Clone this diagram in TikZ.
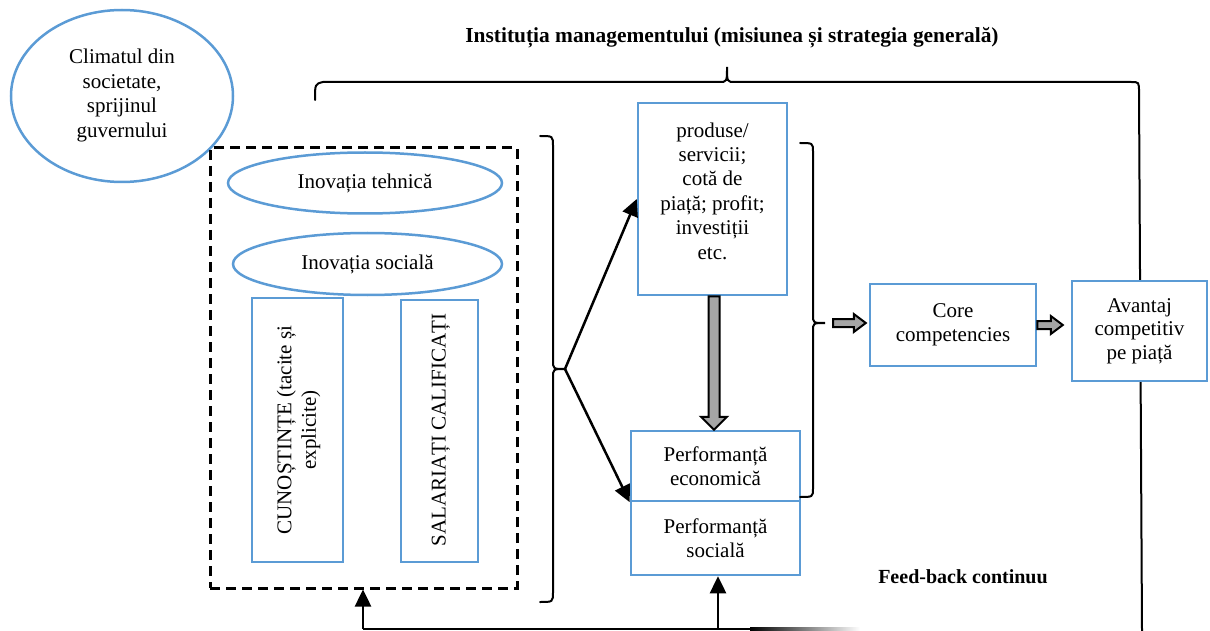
\documentclass[tikz,border=0pt]{standalone}
\usepackage{fontspec}
\setmainfont{Liberation Serif}
\usetikzlibrary{arrows.meta,calc,shapes.geometric}

\definecolor{boxblue}{HTML}{5B9BD5}
\definecolor{arrowgray}{HTML}{A5A5A5}

\tikzset{
  txt/.style={font=\fontsize{21}{24.4}\selectfont, align=center, inner sep=0pt},
  bluebox/.style={draw=boxblue, line width=2.5pt, fill=white, rectangle, inner sep=0pt,
    font=\fontsize{21}{23.5}\selectfont, align=center},
  blueoval/.style={draw=boxblue, line width=2.5pt, ellipse, inner sep=0pt,
    font=\fontsize{21}{24.4}\selectfont, align=center},
  groupbox/.style={draw=black, line width=3pt, dash pattern=on 10pt off 6pt, rectangle, inner sep=0pt},
  flow/.style={line width=2.5pt, -{Triangle[length=17pt,width=16pt]}},
  bracket/.style={line width=2pt, line cap=round},
  fatarrow/.style={draw=black, line width=2pt, fill=arrowgray, line join=miter},
}

\begin{document}
\begin{tikzpicture}[x=1pt,y=-1pt]
\useasboundingbox (0,0) rectangle (1210,631);

% heading and the brace spanning the organisation
\node[txt, font=\bfseries\fontsize{21.4}{24}\selectfont] (title) at (732,38)
  {Instituția managementului (misiunea și strategia generală)};
\draw[bracket] (315,100) .. controls (315,84) .. (323,82) -- (719,82)
  .. controls (727,82) .. (727,67) .. controls (727,82) .. (735,82)
  -- (1131,82) .. controls (1139,82) .. (1139,92) -- (1142,631);

% external climate
\node[blueoval, minimum width=222pt, minimum height=172pt] (clim) at (122,96) {};
\node[txt] (climtxt) at (122,95.5) {Climatul din\\societate,\\sprijinul\\guvernului};

% resources group
\node[groupbox, minimum width=307pt, minimum height=440pt] (grp) at (363.5,368) {};
\node[blueoval, fill=white, minimum width=274pt, minimum height=61pt] (tehn) at (365,183)
  {Inovația tehnică};
\node[blueoval, fill=white, minimum width=269pt, minimum height=62pt] (soc) at (367.5,264)
  {Inovația socială};
\node[bluebox, minimum width=91pt, minimum height=264pt] (cun) at (297.5,430) {};
\node[txt, rotate=90] (cuntxt) at (298.5,430) {CUNOȘTINȚE (tacite și\\explicite)};
\node[bluebox, minimum width=77pt, minimum height=262pt] (sal) at (439.5,431) {};
\node[txt, rotate=90] (saltxt) at (441,430) {SALARIAȚI CALIFICAȚI};

% brace gathering the resources
\draw[bracket] (540,136) .. controls (553,136) .. (553,146) -- (553,360)
  .. controls (553,369) .. (565,369) coordinate (gcusp)
  .. controls (553,369) .. (553,378) -- (553,592) .. controls (553,602) .. (540,602);

% results
\node[bluebox, minimum width=149pt, minimum height=192pt] (prod) at (712.5,199) {};
\node[txt] (prodtxt) at (712.5,191)
  {produse/\\servicii;\\cotă de\\piață; profit;\\investiții\\etc.};
\node[bluebox, minimum width=169pt, minimum height=70pt] (econ) at (715.5,466)
  {Performanță\\economică};
\node[bluebox, minimum width=169pt, minimum height=74pt] (social) at (715.5,538)
  {Performanță\\socială};

\draw[flow] (gcusp) -- (prod.west);
\draw[flow] (gcusp) -- (econ.south west);

% wide arrow from products to economic performance
\coordinate (gx) at (714,0);
\coordinate (gtop) at (prod.south -| gx);
\coordinate (gbot) at (econ.north -| gx);
\draw[fatarrow] ($(gtop)+(-5.5,0)$) -- ($(gbot)+(-5.5,-13)$) -- ($(gbot)+(-13,-13)$)
  -- (gbot) -- ($(gbot)+(13,-13)$) -- ($(gbot)+(5.5,-13)$) -- ($(gtop)+(5.5,0)$) -- cycle;

% brace over the results
\draw[bracket] (800,143) .. controls (813,143) .. (813,152) -- (813,315)
  .. controls (813,323) .. (825,323) coordinate (rcusp)
  .. controls (813,323) .. (813,331) -- (813,488) .. controls (813,497) .. (800,497);

% competencies and advantage
\node[bluebox, minimum width=166pt, minimum height=82pt] (core) at (953,325)
  {Core\\competencies};
\node[bluebox, minimum width=135pt, minimum height=100pt] (avt) at (1139.5,331)
  {Avantaj\\competitiv\\pe piață};

\coordinate (a1s) at (833,323);
\coordinate (a1e) at ($(core.west)+(-3,-2)$);
\draw[fatarrow] ($(a1s)+(0,-4)$) -- ($(a1e)+(-12,-4)$) -- ($(a1e)+(-12,-9)$) -- (a1e)
  -- ($(a1e)+(-12,9)$) -- ($(a1e)+(-12,4)$) -- ($(a1s)+(0,4)$) -- cycle;
\coordinate (a2s) at (core.east);
\coordinate (a2e) at ($(avt.west)+(-8,-6)$);
\draw[fatarrow] ($(a2s)+(0,-4)$) -- ($(a2e)+(-12,-4)$) -- ($(a2e)+(-12,-9)$) -- (a2e)
  -- ($(a2e)+(-12,9)$) -- ($(a2e)+(-12,4)$) -- ($(a2s)+(0,4)$) -- cycle;

% continuous feedback
\node[txt, font=\bfseries\fontsize{20}{24}\selectfont] (fb) at (963,577) {Feed-back continuu};
\coordinate (fbL) at (363,629);
\coordinate (fbM) at (718,629);
\draw[line width=2.5pt] (fbL) -- (750,629);
\shade[left color=black, right color=white] (750,627.75) rectangle (860,630.25);
\draw[flow] (fbL) -- (fbL |- grp.south);
\draw[flow] (fbM) -- (fbM |- social.south);
\end{tikzpicture}
\end{document}
